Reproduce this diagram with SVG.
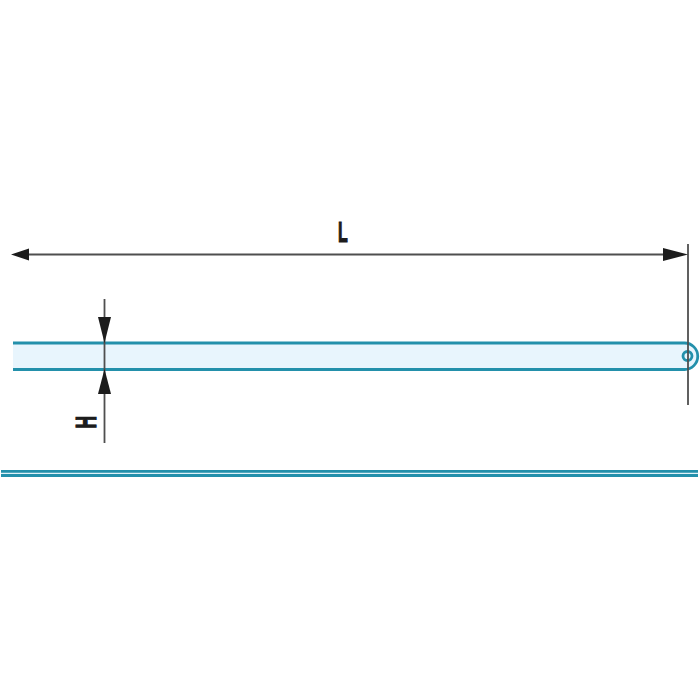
<svg xmlns="http://www.w3.org/2000/svg" width="700" height="700" viewBox="0 0 700 700">
<style>
.edge{fill:none;stroke:#2390ab;stroke-width:2.800}
.dim{fill:none;stroke:#4f4f4f;stroke-width:1.800}
.head{fill:#1c1c1c;stroke:none}
.lbl{font-family:"Liberation Sans",Arial,sans-serif;font-weight:700;font-size:29px;fill:#1c1c1c;stroke:#1c1c1c;stroke-width:1.200}
</style>
<rect width="700" height="700" fill="#fff"/>
<g id="blade">
<path d="M13 343H684.500A13.250 13.250 0 0 1 684.500 369.500H13Z" fill="#e8f5fd" stroke="none"/>
<path class="edge" d="M13 343H684.500A13.250 13.250 0 0 1 684.500 369.500H13"/>
<circle class="edge" cx="687.500" cy="356" r="4.500"/>
</g>
<g id="blade-edge-view">
<rect x="1" y="470" width="697" height="6.500" fill="#dff1f8"/>
<path class="edge" d="M1 471.300H698M1 475.500H698"/>
</g>
<g id="connectors">
<path class="dim" d="M28 254.500H664"/>
<path class="dim" d="M688 244V405"/>
<path class="dim" d="M104.500 299V443"/>
<polygon class="head" points="11,254.500 29,248.500 29,260.500"/>
<polygon class="head" points="688,254.500 663,248 663,261"/>
<polygon class="head" points="104.500,343 98,317 111,317"/>
<polygon class="head" points="104.500,369 98,394 111,394"/>
</g>
<g id="label-L">
<text class="lbl" transform="translate(338 242) scale(0.55 1)">L</text>
</g>
<g id="label-H">
<text class="lbl" transform="translate(96 428.500) rotate(-90) scale(0.6 1)">H</text>
</g>
</svg>
